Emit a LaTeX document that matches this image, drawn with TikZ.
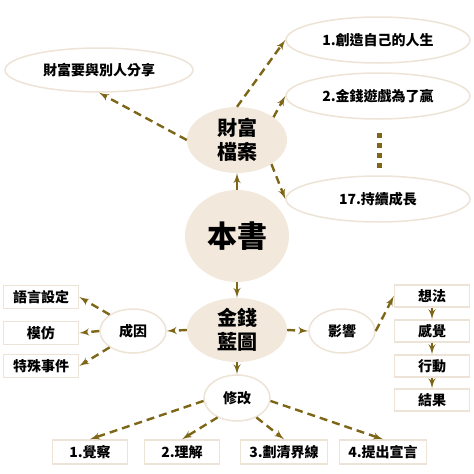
\documentclass[tikz,border=0pt]{standalone}
\usepackage{fontspec}
\usepackage{tikz}
\usetikzlibrary{arrows}
\usetikzlibrary{shapes.geometric}
\newfontfamily\cjk{Noto Sans CJK TC}
\tikzset{bubble/.style = {ellipse, inner sep = 0, fill = mbeige},
         oval/.style = {ellipse, inner sep = 0, fill = white, draw = mline, line width = 1.5},
         tag/.style = {rectangle, inner sep = 0, fill = white, draw = mline, line width = 1.5,
                       minimum width = 75, minimum height = 23},
         dashlink/.style = {-latex', mbrown, line width = 2.4, dash pattern = on 8 off 5},
         link/.style = {-latex', mbrown, line width = 2.4}}
\definecolor{mbrown}{rgb}{0.49, 0.40, 0.09}
\definecolor{mbeige}{rgb}{0.95, 0.91, 0.86}
\definecolor{mline}{rgb}{0.93, 0.89, 0.84}

\begin{document}
\begin{tikzpicture}[x=1pt, y=-1pt, font=\cjk\bfseries\fontsize{14}{16}\selectfont]
      \useasboundingbox (0, 0) rectangle (474, 474);

      % the three big ones
      \node [bubble, minimum width = 104, minimum height = 92,
             font=\cjk\bfseries\fontsize{30}{32}\selectfont] (book) at (237, 236) {本書};
      \node [bubble, minimum width = 100, minimum height = 66, align = center,
             font=\cjk\bfseries\fontsize{20}{24}\selectfont] (wealth) at (237, 140) {財富\\檔案};
      \node [bubble, minimum width = 100, minimum height = 64, align = center,
             font=\cjk\bfseries\fontsize{20}{24}\selectfont] (blueprint) at (237, 330) {金錢\\藍圖};

      \node [oval, minimum width = 188, minimum height = 44] (share) at (99, 70) {財富要與別人分享};
      \node [oval, minimum width = 184, minimum height = 46] (rule1) at (378, 40) {1.創造自己的人生};
      \node [oval, minimum width = 184, minimum height = 46] (rule2) at (378, 96) {2.金錢遊戲為了贏};
      \node [oval, minimum width = 184, minimum height = 46] (rule17) at (378, 199) {17.持續成長};
      \foreach \y in {133, 143, 153, 163}
        \fill [mbrown] (376.5, \y) rectangle +(5, 5);

      \node [oval, minimum width = 66, minimum height = 44] (cause) at (133, 331) {成因};
      \node [oval, minimum width = 66, minimum height = 44] (effect) at (342, 331) {影響};
      \node [oval, minimum width = 66, minimum height = 46] (fix) at (237, 398) {修改};

      \node [tag] (lang) at (41, 297) {語言設定};
      \node [tag] (imit) at (41, 333) {模仿};
      \node [tag] (event) at (41, 366) {特殊事件};

      \node [tag, minimum height = 22] (idea) at (432, 296) {想法};
      \node [tag, minimum height = 22] (feel) at (432, 331) {感覺};
      \node [tag, minimum height = 22] (act) at (432, 366) {行動};
      \node [tag, minimum height = 22] (result) at (432, 400) {結果};

      \node [tag, minimum height = 24] (aware) at (90, 452) {1.覺察};
      \node [tag, minimum height = 24] (grasp) at (182, 452) {2.理解};
      \node [tag, minimum width = 87, minimum height = 24] (bound) at (284, 452) {3.劃清界線};
      \node [tag, minimum width = 87, minimum height = 24] (declare) at (383, 452) {4.提出宣言};

      \draw [link] (book) -- (wealth);
      \draw [link] (book) -- (blueprint);
      \draw [link] (blueprint) -- (fix);

      \draw [dashlink] (wealth.west) -- (share.south);
      \draw [dashlink] (wealth.north) -- (rule1.west);
      \draw [dashlink] (wealth.32) -- (rule2.west);
      \draw [dashlink] (wealth.-35) -- (rule17.west);

      \draw [dashlink] (blueprint.west) -- (cause.east);
      \draw [dashlink] (blueprint.east) -- (effect.west);

      \draw [dashlink] (cause.145) -- (lang.east);
      \draw [dashlink] (cause.west) -- (imit.east);
      \draw [dashlink] (cause.215) -- (event.east);

      \draw [dashlink] (effect.east) -- (idea.west);
      \draw [link] (idea) -- (feel);
      \draw [link] (feel) -- (act);
      \draw [link] (act) -- (result);

      \draw [dashlink] (fix.185) -- (aware.north);
      \draw [dashlink] (fix.225) -- (grasp.north);
      \draw [dashlink] (fix.-45) -- (bound.north);
      \draw [dashlink] (fix.-5) -- (declare.north);
    \end{tikzpicture}
\end{document}
